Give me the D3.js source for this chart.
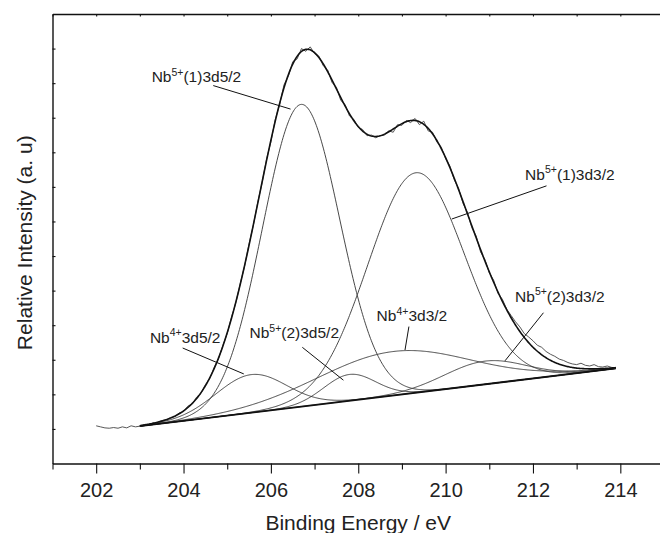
<!DOCTYPE html>
<html>
  <head>
    <meta charset="UTF-8" />
    <style>
      body { margin: 0; background: #fff; }
      text { font-family: "Liberation Sans", Arial, sans-serif; fill: #222; }
    </style>
  </head>
  <body>
    <svg></svg>
    <script src="https://d3js.org/d3.v7.min.js"></script>
    <script>
      let width = 660,
        height = 533;

      // fitted components: centre (eV), height above background, FWHM (eV)
      let peakNames = ["Nb5+(1)3d5/2", "Nb5+(1)3d3/2", "Nb4+3d5/2", "Nb5+(2)3d5/2", "Nb4+3d3/2", "Nb5+(2)3d3/2"];
      let peakCentre = [206.69, 209.32, 205.55, 207.8, 208.8, 210.9];
      let peakHeight = [8.74, 6.36, 1.1, 0.76, 1.27, 0.67];
      let peakFwhm = [2.08, 2.6, 1.9, 1.4, 4.1, 2.2];

      // linear background, start and end point
      let bgEnergy = [203.0, 213.9];
      let bgIntensity = [1.08, 2.75];

      // measured spectrum, 202.0 .. 213.9 eV in 0.1 eV steps
      let rawStart = 202.0;
      let rawIntensity = [
        1.09, 1.06, 1.03, 1.02, 1.04, 1.02, 1.06, 1.03, 1.09, 1.06,
        1.08, 1.12, 1.13, 1.17, 1.18, 1.24, 1.26, 1.33, 1.36, 1.46,
        1.5, 1.66, 1.72, 1.92, 2.03, 2.28, 2.46, 2.77, 3.03, 3.41,
        3.76, 4.24, 4.66, 5.21, 5.72, 6.35, 6.9, 7.56, 8.13, 8.8,
        9.3, 9.95, 10.38, 10.95, 11.2, 11.62, 11.7, 12.0, 11.92, 12.05,
        11.85, 11.78, 11.5, 11.38, 11.02, 10.88, 10.5, 10.38, 10.05, 9.95,
        9.72, 9.66, 9.48, 9.5, 9.42, 9.48, 9.5, 9.62, 9.58, 9.8,
        9.78, 9.92, 9.86, 9.98, 9.8, 9.9, 9.62, 9.58, 9.3, 9.15,
        8.82, 8.6, 8.2, 7.95, 7.52, 7.26, 6.82, 6.58, 6.12, 5.9,
        5.52, 5.3, 4.92, 4.75, 4.46, 4.28, 4.1, 3.95, 3.76, 3.66,
        3.55, 3.42, 3.36, 3.24, 3.16, 3.1, 3.02, 2.98, 2.92, 2.88,
        2.86, 2.9, 2.84, 2.82, 2.86, 2.8, 2.79, 2.82, 2.78, 2.76
      ];

      let xMajor = [202, 204, 206, 208, 210, 212, 214];
      let xMinor = [201, 203, 205, 207, 209, 211, 213];
      let yTicks = [1, 2, 3, 4, 5, 6, 7, 8, 9, 10, 11, 12];

      // labels: text anchor and leader line, in data units
      let labelSup = ["5+", "5+", "4+", "5+", "4+", "5+"];
      let labelRest = ["(1)3d5/2", "(1)3d3/2", "3d5/2", "(2)3d5/2", "3d3/2", "(2)3d3/2"];
      let labelAt = [[203.27, 11.03], [211.82, 8.2], [203.23, 3.49], [205.51, 3.62], [208.42, 4.12], [211.59, 4.68]];
      let leaderFrom = [[204.68, 10.93], [212.31, 8.03], [203.98, 3.34], [206.72, 3.36], [209.16, 3.96], [212.24, 4.36]];
      let leaderTo = [[206.45, 10.25], [210.14, 7.07], [205.38, 2.59], [207.66, 2.41], [209.07, 3.28], [211.36, 2.97]];

      let svg = d3.select("svg").attr("width", width).attr("height", height);

      let x = d3.scaleLinear().domain([201, 215]).range([52.5, 664]);
      let y = d3.scaleLinear().domain([0, 13]).range([463.5, 14]);

      let bg = (e) =>
        bgIntensity[0] + ((e - bgEnergy[0]) * (bgIntensity[1] - bgIntensity[0])) / (bgEnergy[1] - bgEnergy[0]);
      let gauss = (i, e) =>
        peakHeight[i] * Math.exp((-4 * Math.LN2 * (e - peakCentre[i]) ** 2) / peakFwhm[i] ** 2);

      let grid = d3.range(bgEnergy[0], bgEnergy[1] + 0.001, 0.02);
      let line = d3.line().x((d) => x(d[0])).y((d) => y(d[1]));

      let plot = svg.append("g").attr("fill", "none");

      // components
      plot.selectAll(".comp")
        .data(peakNames)
        .join("path")
        .attr("class", "comp")
        .attr("stroke", "#333")
        .attr("stroke-width", 0.9)
        .attr("d", (n, i) => line(grid.map((e) => [e, bg(e) + gauss(i, e)])));

      // background
      plot.append("path")
        .attr("stroke", "#111")
        .attr("stroke-width", 1.8)
        .attr("d", line(bgEnergy.map((e, i) => [e, bgIntensity[i]])));

      // raw spectrum
      plot.append("path")
        .attr("stroke", "#444")
        .attr("stroke-width", 0.9)
        .attr("d", line(rawIntensity.map((v, i) => [rawStart + i * 0.1, v])));

      // envelope = background + all components
      plot.append("path")
        .attr("stroke", "#111")
        .attr("stroke-width", 1.6)
        .attr("d", line(grid.map((e) => [e, bg(e) + d3.sum(peakNames, (n, i) => gauss(i, e))])));

      // axes
      let bottom = svg.append("g").attr("transform", `translate(0,${y(0)})`);
      bottom.call(d3.axisBottom(x).tickValues(xMajor).tickSize(10).tickSizeOuter(0).tickPadding(9.5));
      bottom.append("g").call(d3.axisBottom(x).tickValues(xMinor).tickSize(6).tickFormat("").tickSizeOuter(0))
        .select(".domain").remove();

      svg.append("g").attr("transform", `translate(0,${y(13)})`)
        .call(d3.axisTop(x).tickValues(xMajor.concat(xMinor)).tickSize(-2.5).tickFormat("").tickSizeOuter(0));
      svg.append("g").attr("transform", `translate(${x(201)},0)`)
        .call(d3.axisLeft(y).tickValues(yTicks).tickSize(-3).tickFormat("").tickSizeOuter(0));

      svg.selectAll(".domain").attr("stroke", "#111").attr("stroke-width", 1.4);
      svg.selectAll(".tick line").attr("stroke", "#111").attr("stroke-width", 1.1);
      svg.selectAll(".tick text").attr("font-size", 20).attr("font-family", "Liberation Sans, Arial, sans-serif").attr("fill", "#222");

      // axis titles
      svg.append("text")
        .attr("x", (x(201) + x(215)) / 2)
        .attr("y", 530)
        .attr("text-anchor", "middle")
        .attr("font-size", 21)
        .text("Binding Energy / eV");

      svg.append("text")
        .attr("transform", `translate(31.5,${(y(0) + y(13)) / 2 + 4}) rotate(-90)`)
        .attr("text-anchor", "middle")
        .attr("font-size", 21)
        .text("Relative Intensity (a. u)");

      // peak labels
      let lab = svg.append("g");
      lab.selectAll("line")
        .data(leaderFrom)
        .join("line")
        .attr("x1", (d) => x(d[0]))
        .attr("y1", (d) => y(d[1]))
        .attr("x2", (d, i) => x(leaderTo[i][0]))
        .attr("y2", (d, i) => y(leaderTo[i][1]))
        .attr("stroke", "#111")
        .attr("stroke-width", 1);

      let t = lab.selectAll("text")
        .data(labelAt)
        .join("text")
        .attr("x", (d) => x(d[0]))
        .attr("y", (d) => y(d[1]))
        .attr("font-size", 15.5);
      t.append("tspan").text("Nb");
      t.append("tspan").attr("font-size", 10.5).attr("dy", -6.5).text((d, i) => labelSup[i]);
      t.append("tspan").attr("dy", 6.5).text((d, i) => labelRest[i]);
    </script>
  </body>
</html>
